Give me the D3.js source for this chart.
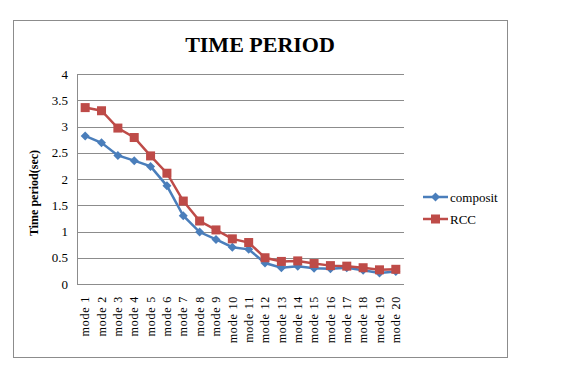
<!DOCTYPE html>
<html>
<head>
<meta charset="utf-8">
<script src="https://cdn.jsdelivr.net/npm/d3@7"></script>
<style>
  body { margin: 0; background: #fff; }
  text { font-family: "Liberation Serif", "Times New Roman", serif; fill: #000; }
</style>
</head>
<body>
<div id="chart"></div>
<script>
// time period chart, two series over 20 modes

const modes = d3.range(1, 21).map(i => "mode " + i);
const composit = [2.82, 2.69, 2.45, 2.35, 2.24, 1.87, 1.30, 0.99, 0.85, 0.70,
                  0.66, 0.40, 0.31, 0.34, 0.30, 0.29, 0.31, 0.26, 0.21, 0.24];
const rcc      = [3.36, 3.30, 2.97, 2.79, 2.44, 2.11, 1.58, 1.20, 1.03, 0.86,
                  0.79, 0.50, 0.43, 0.44, 0.39, 0.35, 0.34, 0.31, 0.27, 0.28];
const yTicks = [0, 0.5, 1, 1.5, 2, 2.5, 3, 3.5, 4];

const W = 570, H = 369;
const plot = { left: 77, right: 404, top: 74, bottom: 284 };

const svg = d3.select("#chart").append("svg")
  .attr("width", W).attr("height", H);

// outer frame
svg.append("rect")
  .attr("x", 13.5).attr("y", 20.5).attr("width", 494).attr("height", 337)
  .attr("fill", "#fff").attr("stroke", "#8c8c8c").attr("stroke-width", 1);

const x = d3.scaleBand().domain(modes).range([plot.left, plot.right]);
const y = d3.scaleLinear().domain([0, 4]).range([plot.bottom, plot.top]);

// grid
svg.append("g")
  .selectAll("line").data(yTicks).join("line")
  .attr("x1", plot.left).attr("x2", plot.right)
  .attr("y1", d => Math.round(y(d)) + 0.5).attr("y2", d => Math.round(y(d)) + 0.5)
  .attr("stroke", "#8c8c8c").attr("stroke-width", 1);

// left axis line
svg.append("line")
  .attr("x1", plot.left + 0.5).attr("x2", plot.left + 0.5)
  .attr("y1", plot.top).attr("y2", plot.bottom + 1)
  .attr("stroke", "#8c8c8c");

// y tick labels
svg.append("g")
  .selectAll("text").data(yTicks).join("text")
  .attr("x", 68).attr("y", d => y(d))
  .attr("dy", "0.35em")
  .attr("text-anchor", "end")
  .style("font-size", "13px")
  .text(d => d);

// x tick labels (rotated)
svg.append("g")
  .selectAll("text").data(modes).join("text")
  .attr("transform", d => `translate(${x(d) + x.bandwidth() / 2},296) rotate(-90)`)
  .attr("dy", "0.35em")
  .attr("text-anchor", "end")
  .style("font-size", "12px")
  .style("letter-spacing", "0.8px")
  .text(d => d);

// title
svg.append("text")
  .attr("x", 260).attr("y", 52)
  .attr("text-anchor", "middle")
  .style("font-size", "22px").style("font-weight", "bold")
  .text("TIME PERIOD");

// y label
svg.append("text")
  .attr("transform", "translate(38,193) rotate(-90)")
  .attr("text-anchor", "middle")
  .style("font-size", "12px").style("font-weight", "bold")
  .text("Time period(sec)");

const cx = d => x(d) + x.bandwidth() / 2;
const series = [
  { name: "composit", values: composit, color: "#4a7ebb", marker: "diamond" },
  { name: "RCC", values: rcc, color: "#be4b48", marker: "square" }
];

const line = d3.line().x(d => cx(d.m)).y(d => y(d.v));

function drawMarker(sel, kind, color) {
  if (kind === "diamond") {
    sel.append("path")
      .attr("d", "M0,-4.5L4.5,0L0,4.5L-4.5,0Z")
      .attr("fill", color);
  } else {
    sel.append("rect")
      .attr("x", -4.5).attr("y", -4.5).attr("width", 9).attr("height", 9)
      .attr("fill", color);
  }
}

series.forEach(s => {
  const pts = s.values.map((v, i) => ({ m: modes[i], v }));
  svg.append("path")
    .datum(pts)
    .attr("fill", "none")
    .attr("stroke", s.color)
    .attr("stroke-width", 2.5)
    .attr("d", line);
  svg.append("g").selectAll("g").data(pts).join("g")
    .attr("transform", d => `translate(${cx(d.m)},${y(d.v)})`)
    .each(function () { drawMarker(d3.select(this), s.marker, s.color); });
});

// legend
const legend = svg.append("g");
series.forEach((s, i) => {
  const ly = 197 + i * 22;
  legend.append("line")
    .attr("x1", 423).attr("x2", 448).attr("y1", ly).attr("y2", ly)
    .attr("stroke", s.color).attr("stroke-width", 2.5);
  drawMarker(legend.append("g").attr("transform", `translate(435.5,${ly})`), s.marker, s.color);
  legend.append("text")
    .attr("x", 450).attr("y", ly).attr("dy", "0.35em")
    .style("font-size", "13px")
    .text(s.name);
});
</script>
</body>
</html>
